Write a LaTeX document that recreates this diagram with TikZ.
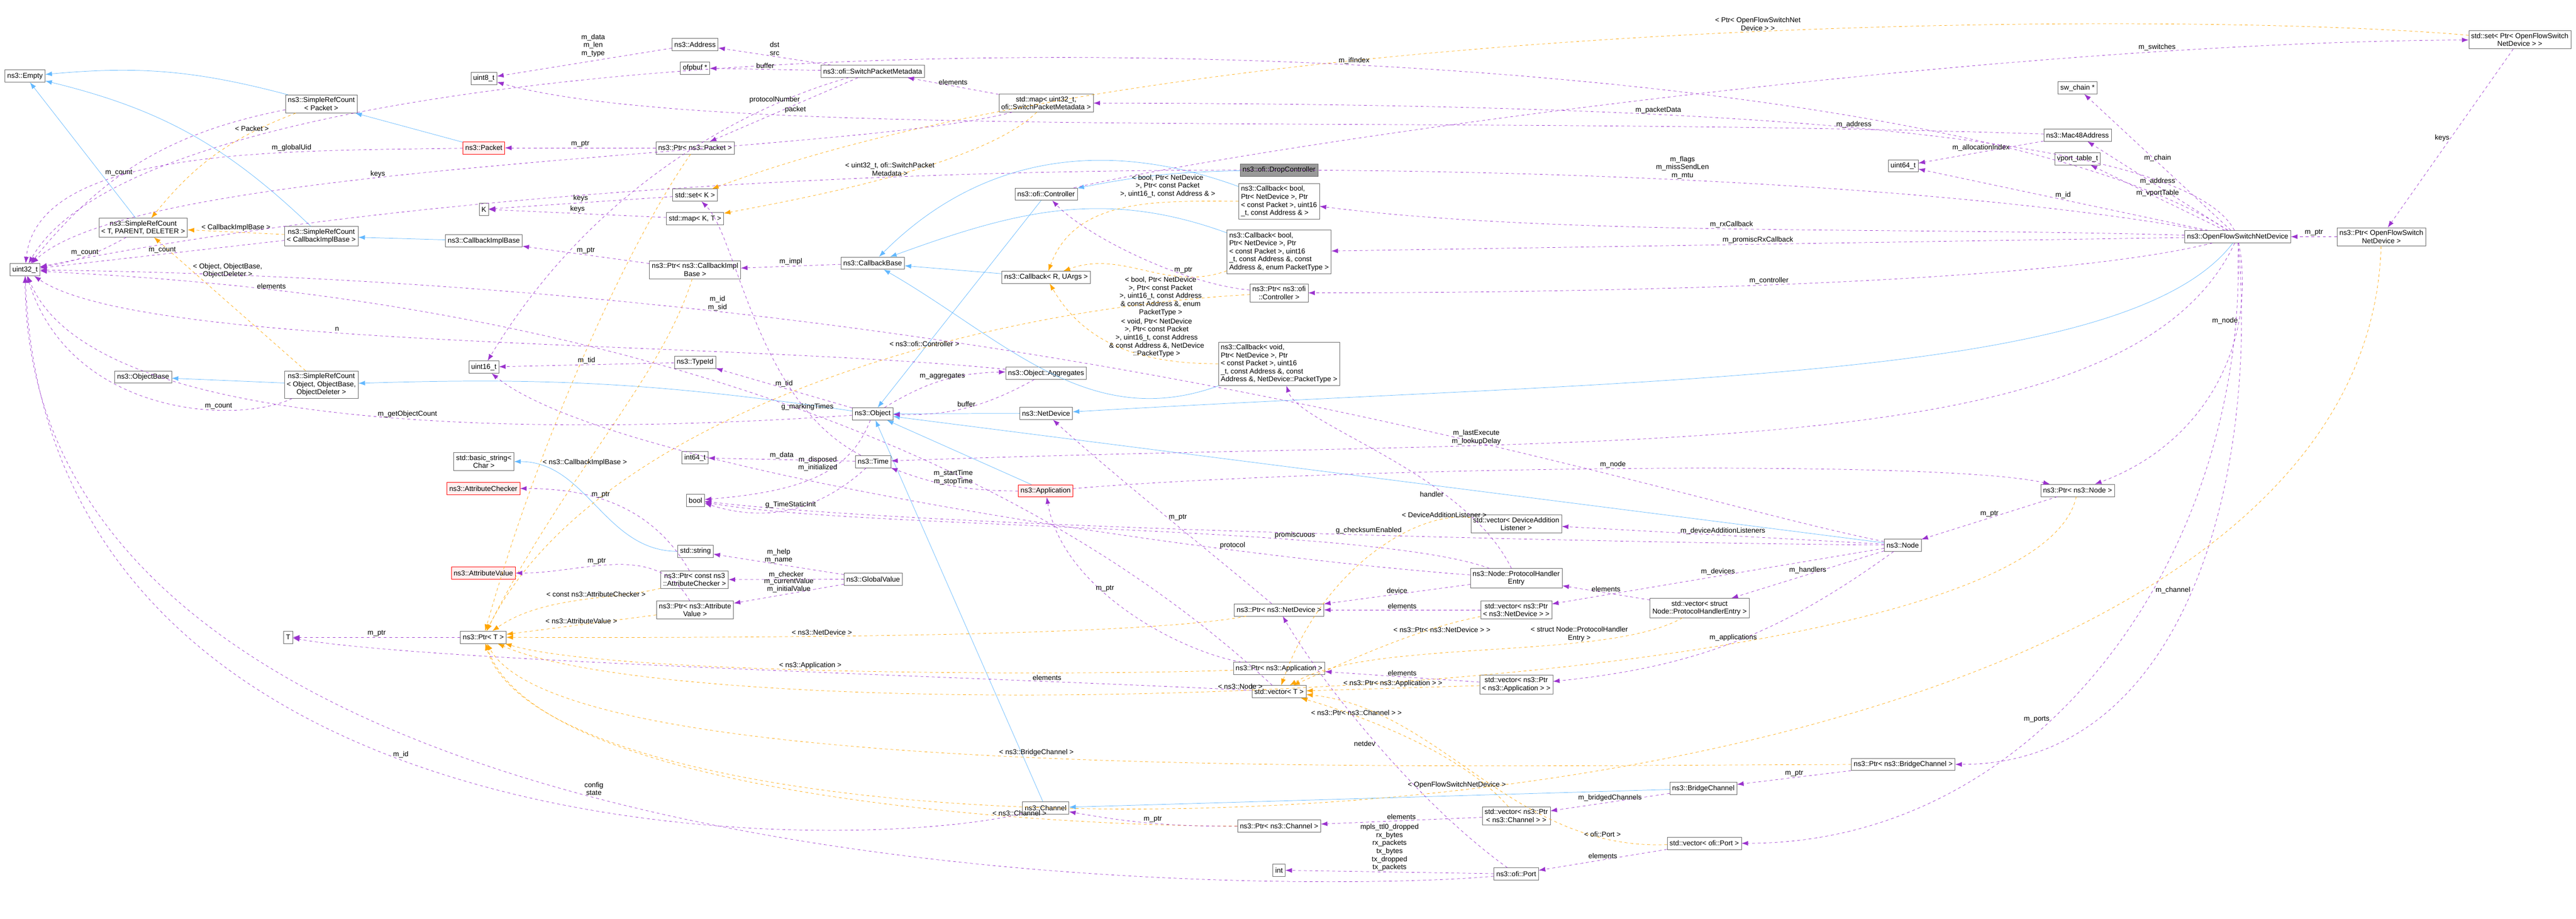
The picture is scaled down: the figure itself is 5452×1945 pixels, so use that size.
\documentclass[tikz,border=0pt]{standalone}
\usepackage{fontspec}
\setmainfont{Liberation Sans}
\usetikzlibrary{arrows.meta}
\definecolor{memcol}{RGB}{154,50,205}
\definecolor{tplcol}{RGB}{255,165,0}
\definecolor{inhcol}{RGB}{99,184,255}

\begin{document}
\begin{tikzpicture}[x=0.5pt, y=-0.5pt, >={Latex[length=7pt,width=5pt]},
  box/.style={draw=black!60, fill=white, font=\fontsize{7.5}{8.5}\selectfont, inner sep=2.5pt, minimum height=13pt, align=center},
  lbox/.style={box, align=left},
  redbox/.style={box, draw=red, fill=red!6},
  selfbox/.style={box, fill=black!40},
  mem/.style={->, draw=memcol, dashed, thin},
  tpl/.style={->, draw=tplcol, dashed, thin},
  inh/.style={->, draw=inhcol, thin},
  lbl/.style={font=\fontsize{7.5}{8.5}\selectfont, align=center, fill=none, inner sep=1pt}]
\useasboundingbox (0,0) rectangle (5452,1945);

% left column
\node[box] (empty) at (53,161) {ns3::Empty};
\node[box] (uintthirtytwo) at (53,571) {uint32\_t};
\node[box] (srct) at (303,482) {ns3::SimpleRefCount\\< T, PARENT, DELETER >};
\node[box] (objbase) at (303,798) {ns3::ObjectBase};
\node[box] (tt) at (610,1349) {T};
\node[box] (srcpacket) at (680,220) {ns3::SimpleRefCount\\< Packet >};
\node[box] (srccib) at (680,500) {ns3::SimpleRefCount\\< CallbackImplBase >};
\node[box] (srcobj) at (680,814) {ns3::SimpleRefCount\\< Object, ObjectBase,\\ObjectDeleter >};
\node[box] (uinteight) at (1024,166) {uint8\_t};
\node[redbox] (packet) at (1024,313) {ns3::Packet};
\node[box] (kk) at (1024,443) {K};
\node[box] (cibase) at (1024,510) {ns3::CallbackImplBase};
\node[box] (uintsixteen) at (1024,777) {uint16\_t};
\node[box] (basicstr) at (1024,977) {std::basic\_string<\\Char >};
\node[redbox] (attrchk) at (1023,1034) {ns3::AttributeChecker};
\node[redbox] (attrval) at (1023,1213) {ns3::AttributeValue};
\node[box] (ptrt) at (1023,1349) {ns3::Ptr< T >};

% second column
\node[box] (address) at (1471,94) {ns3::Address};
\node[box] (ofpbuf) at (1471,144) {ofpbuf *};
\node[box] (ptrpacket) at (1471,313) {ns3::Ptr< ns3::Packet >};
\node[box] (setk) at (1471,413) {std::set< K >};
\node[box] (mapkt) at (1471,463) {std::map< K, T >};
\node[box] (ptrcib) at (1471,571) {ns3::Ptr< ns3::CallbackImpl\\Base >};
\node[box] (typeid) at (1471,767) {ns3::TypeId};
\node[box] (intsixfour) at (1471,969) {int64\_t};
\node[box] (bool) at (1472,1059) {bool};
\node[box] (stdstr) at (1472,1167) {std::string};
\node[box] (ptrac) at (1470,1227) {ns3::Ptr< const ns3\\::AttributeChecker >};
\node[box] (ptrav) at (1471,1291) {ns3::Ptr< ns3::Attribute\\Value >};
\node[box] (spm) at (1847,151) {ns3::ofi::SwitchPacketMetadata};
\node[box] (cbbase) at (1847,557) {ns3::CallbackBase};
\node[box] (object) at (1847,876) {ns3::Object};
\node[box] (time) at (1848,977) {ns3::Time};
\node[box] (global) at (1848,1226) {ns3::GlobalValue};

% third column
\node[box] (mapspm) at (2214,218) {std::map< uint32\_t,\\ ofi::SwitchPacketMetadata >};
\node[box] (ctrl) at (2214,411) {ns3::ofi::Controller};
\node[box] (cbr) at (2214,587) {ns3::Callback< R, UArgs >};
\node[box] (aggr) at (2214,790) {ns3::Object::Aggregates};
\node[box] (netdev) at (2214,875) {ns3::NetDevice};
\node[redbox] (app) at (2213,1039) {ns3::Application};
\node[box] (channel) at (2213,1710) {ns3::Channel};
\node[selfbox] (dropctrl) at (2707,360) {ns3::ofi::DropController};
\node[lbox] (cbone) at (2707,426) {ns3::Callback< bool,\\ Ptr< NetDevice >, Ptr\\< const Packet >, uint16\\\_t, const Address \& >};
\node[lbox] (cbtwo) at (2707,533) {ns3::Callback< bool,\\ Ptr< NetDevice >, Ptr\\< const Packet >, uint16\\\_t, const Address \&, const\\ Address \&, enum PacketType >};
\node[box] (ptrctrl) at (2707,620) {ns3::Ptr< ns3::ofi\\::Controller >};
\node[lbox] (cbthree) at (2707,770) {ns3::Callback< void,\\ Ptr< NetDevice >, Ptr\\< const Packet >, uint16\\\_t, const Address \&, const\\ Address \&, NetDevice::PacketType >};
\node[box] (ptrnd) at (2707,1291) {ns3::Ptr< ns3::NetDevice >};
\node[box] (ptrapp) at (2707,1415) {ns3::Ptr< ns3::Application >};
\node[box] (vect) at (2707,1464) {std::vector< T >};
\node[box] (ptrch) at (2707,1748) {ns3::Ptr< ns3::Channel >};
\node[box] (intt) at (2707,1842) {int};

% fourth column
\node[box] (vecdal) at (3209,1109) {std::vector< DeviceAddition\\Listener >};
\node[box] (phe) at (3209,1224) {ns3::Node::ProtocolHandler\\Entry};
\node[box] (vecnd) at (3209,1291) {std::vector< ns3::Ptr\\< ns3::NetDevice > >};
\node[box] (vecapp) at (3209,1449) {std::vector< ns3::Ptr\\< ns3::Application > >};
\node[box] (vecch) at (3209,1727) {std::vector< ns3::Ptr\\< ns3::Channel > >};
\node[box] (port) at (3209,1850) {ns3::ofi::Port};
\node[box] (vecphe) at (3597,1287) {std::vector< struct\\ Node::ProtocolHandlerEntry >};
\node[box] (bridge) at (3605,1669) {ns3::BridgeChannel};
\node[box] (vecport) at (3607,1785) {std::vector< ofi::Port >};
\node[box] (node) at (4027,1154) {ns3::Node};
\node[box] (ptrbridge) at (4028,1618) {ns3::Ptr< ns3::BridgeChannel >};
\node[box] (uintsixfour) at (4028,351) {uint64\_t};

% right column
\node[box] (swchain) at (4397,186) {sw\_chain *};
\node[box] (mac) at (4397,286) {ns3::Mac48Address};
\node[box] (vport) at (4397,336) {vport\_table\_t};
\node[box] (ptrnode) at (4397,1038) {ns3::Ptr< ns3::Node >};
\node[box] (ofsnd) at (4736,501) {ns3::OpenFlowSwitchNetDevice};
\node[box] (ptrofsnd) at (5040,501) {ns3::Ptr< OpenFlowSwitch\\NetDevice >};
\node[box] (setofsnd) at (5333,84) {std::set< Ptr< OpenFlowSwitch\\NetDevice > >};

% inheritance
\draw[inh] (srcpacket) to[bend right=10] (empty);
\draw[inh] (srccib) to[bend right=15] (empty);
\draw[inh] (srct) -- (empty);
\draw[inh] (packet) -- (srcpacket);
\draw[inh] (cibase) -- (srccib);
\draw[inh] (srcobj) -- (objbase);
\draw[inh] (object) to[bend right=5] (srcobj);
\draw[inh] (stdstr) to[out=180, in=0] (basicstr);
\draw[inh] (dropctrl) to[bend right=5] (ctrl);
\draw[inh] (ctrl) -- (object);
\draw[inh] (cbone) to[out=160, in=45] (cbbase);
\draw[inh] (cbtwo) to[out=160, in=20] (cbbase);
\draw[inh] (cbr) -- (cbbase);
\draw[inh] (cbthree) to[out=200, in=-30] (cbbase);
\draw[inh] (netdev) -- (object);
\draw[inh] (node) -- (object);
\draw[inh] (app) -- (object);
\draw[inh] (channel) -- (object);
\draw[inh] (bridge) -- (channel);
\draw[inh] (ofsnd) .. controls (4500,810) and (3500,800) .. (netdev);

% templates
\draw[tpl] (srcpacket) to[bend right=15] node[lbl, near start, above] {< Packet >} (srct);
\draw[tpl] (srccib) -- node[lbl, above] {< CallbackImplBase >} (srct);
\draw[tpl] (srcobj) -- node[lbl, near end, right] {< Object, ObjectBase,\\ObjectDeleter >} (srct);
\draw[tpl] (setofsnd) .. controls (4600,20) and (2500,30) .. node[lbl, pos=0.45, above] {< Ptr< OpenFlowSwitchNet\\Device > >} (setk);
\draw[tpl] (mapspm) .. controls (2080,350) and (1700,420) .. node[lbl, midway, above] {< uint32\_t, ofi::SwitchPacket\\Metadata >} (mapkt);
\draw[tpl] (cbone) to[out=180, in=70] node[lbl, pos=0.3, above=4pt] {< bool, Ptr< NetDevice\\>, Ptr< const Packet\\>, uint16\_t, const Address \& >} (cbr);
\draw[tpl] (cbtwo) to[out=200, in=20] node[lbl, pos=0.4, below=2pt] {< bool, Ptr< NetDevice\\>, Ptr< const Packet\\>, uint16\_t, const Address\\\& const Address \&, enum\\PacketType >} (cbr);
\draw[tpl] (cbthree) to[out=180, in=-60] node[lbl, pos=0.3, above] {< void, Ptr< NetDevice\\>, Ptr< const Packet\\>, uint16\_t, const Address\\\& const Address \&, NetDevice\\::PacketType >} (cbr);
\draw[tpl] (ptrpacket) .. controls (1340,500) and (1150,900) .. (ptrt);
\draw[tpl] (ptrcib) .. controls (1400,800) and (1200,1000) .. node[lbl, pos=0.6, above] {< ns3::CallbackImplBase >} (ptrt);
\draw[tpl] (ptrctrl) .. controls (2000,660) and (1250,900) .. node[lbl, pos=0.35, above] {< ns3::ofi::Controller >} (ptrt);
\draw[tpl] (ptrac) .. controls (1300,1270) and (1150,1260) .. node[lbl, pos=0.4, above] {< const ns3::AttributeChecker >} (ptrt);
\draw[tpl] (ptrav) -- node[lbl, above] {< ns3::AttributeValue >} (ptrt);
\draw[tpl] (ptrnd) .. controls (2400,1350) and (1500,1350) .. node[lbl, pos=0.6, above] {< ns3::NetDevice >} (ptrt);
\draw[tpl] (ptrapp) .. controls (2300,1430) and (1300,1430) .. node[lbl, pos=0.55, above] {< ns3::Application >} (ptrt);
\draw[tpl] (ptrnode) .. controls (4300,1500) and (1500,1560) .. node[lbl, pos=0.55, above] {< ns3::Node >} (ptrt);
\draw[tpl] (ptrbridge) .. controls (3000,1620) and (1200,1660) .. node[lbl, pos=0.5, above] {< ns3::BridgeChannel >} (ptrt);
\draw[tpl] (ptrch) .. controls (2300,1750) and (1150,1700) .. node[lbl, pos=0.3, above] {< ns3::Channel >} (ptrt);
\draw[tpl] (ptrofsnd) .. controls (5000,1900) and (1200,1930) .. node[lbl, pos=0.5, above] {< OpenFlowSwitchNetDevice >} (ptrt);
\draw[tpl] (vecdal) .. controls (3000,1080) and (2800,1200) .. node[lbl, pos=0.15, above] {< DeviceAdditionListener >} (vect);
\draw[tpl] (vecnd) .. controls (3000,1330) and (2850,1400) .. node[lbl, pos=0.2, below] {< ns3::Ptr< ns3::NetDevice > >} (vect);
\draw[tpl] (vecphe) .. controls (3400,1400) and (2900,1350) .. node[lbl, pos=0.3, above] {< struct Node::ProtocolHandler\\Entry >} (vect);
\draw[tpl] (vecapp) -- node[lbl, above] {< ns3::Ptr< ns3::Application > >} (vect);
\draw[tpl] (vecch) .. controls (3100,1600) and (2900,1520) .. node[lbl, pos=0.75, above] {< ns3::Ptr< ns3::Channel > >} (vect);
\draw[tpl] (vecport) .. controls (3200,1800) and (3050,1500) .. node[lbl, pos=0.15, above] {< ofi::Port >} (vect);

% members
\draw[mem] (srcpacket) to[bend right=20] node[lbl, pos=0.6, above] {m\_count} (uintthirtytwo);
\draw[mem] (srct) to[bend left=10] node[lbl, above] {m\_count} (uintthirtytwo);
\draw[mem] (srccib) -- node[lbl, above] {m\_count} (uintthirtytwo);
\draw[mem] (srcobj) .. controls (500,900) and (150,880) .. node[lbl, pos=0.3, above] {m\_count} (uintthirtytwo);
\draw[mem] (packet) .. controls (600,320) and (80,310) .. node[lbl, pos=0.3, above] {m\_globalUid} (uintthirtytwo);
\draw[mem] (mapspm) .. controls (1800,330) and (300,340) .. node[lbl, pos=0.6, above] {keys} (uintthirtytwo);
\draw[mem] (vect) .. controls (1800,620) and (300,590) .. node[lbl, pos=0.7, above] {elements} (uintthirtytwo);
\draw[mem] (aggr) .. controls (1500,720) and (300,740) .. node[lbl, pos=0.6, above] {n} (uintthirtytwo);
\draw[mem] (object) .. controls (1200,920) and (200,930) .. node[lbl, pos=0.45, above] {m\_getObjectCount} (uintthirtytwo);
\draw[mem] (ofsnd) .. controls (4000,20) and (400,-40) .. node[lbl, pos=0.4, above] {m\_ifIndex} (uintthirtytwo);
\draw[mem] (ofsnd) .. controls (3800,330) and (1500,280) .. node[lbl, pos=0.3, above] {m\_flags\\m\_missSendLen\\m\_mtu} (uintthirtytwo);
\draw[mem] (channel) .. controls (1800,1810) and (100,1830) .. node[lbl, pos=0.55, above] {m\_id} (uintthirtytwo);
\draw[mem] (port) .. controls (2800,1890) and (60,1930) .. node[lbl, pos=0.55, above] {config\\state} (uintthirtytwo);
\draw[mem] (node) .. controls (3500,1050) and (2200,600) .. node[lbl, pos=0.75, above] {m\_id\\m\_sid} (uintthirtytwo);
\draw[mem] (address) -- node[lbl, pos=0.45, above=3pt] {m\_data\\m\_len\\m\_type} (uinteight);
\draw[mem] (mac) .. controls (3000,240) and (1500,300) .. node[lbl, pos=0.1, above] {m\_address} (uinteight);
\draw[mem] (spm) .. controls (1700,190) and (1300,320) .. node[lbl, pos=0.3, above] {protocolNumber} (uintsixteen);
\draw[mem] (spm) -- node[lbl, above] {dst\\src} (address);
\draw[mem] (spm) -- node[lbl, above] {buffer} (ofpbuf);
\draw[mem] (spm) -- node[lbl, midway, right] {packet} (ptrpacket);
\draw[mem] (mapspm) -- node[lbl, above] {elements} (spm);
\draw[mem] (ptrpacket) -- node[lbl, above] {m\_ptr} (packet);
\draw[mem] (setk) -- node[lbl, above] {keys} (kk);
\draw[mem] (mapkt) -- node[lbl, above] {keys} (kk);
\draw[mem] (ptrcib) -- node[lbl, above] {m\_ptr} (cibase);
\draw[mem] (cbbase) -- node[lbl, above] {m\_impl} (ptrcib);
\draw[mem] (typeid) -- node[lbl, above] {m\_tid} (uintsixteen);
\draw[mem] (object) -- node[lbl, above] {m\_tid} (typeid);
\draw[mem] (time) .. controls (1600,850) and (1560,500) .. node[lbl, pos=0.2, above] {g\_markingTimes} (setk);
\draw[mem] (object) to[bend left=15] node[lbl, above] {m\_aggregates} (aggr);
\draw[mem] (aggr) to[bend left=15] node[lbl, above] {buffer} (object);
\draw[mem] (ptrctrl) .. controls (2500,600) and (2300,500) .. node[lbl, pos=0.3, above] {m\_ptr} (ctrl);
\draw[mem] (ofsnd) .. controls (4000,480) and (3300,500) .. node[lbl, midway, above] {m\_rxCallback} (cbone);
\draw[mem] (ofsnd) -- node[lbl, above] {m\_promiscRxCallback} (cbtwo);
\draw[mem] (ofsnd) .. controls (4300,610) and (3200,620) .. node[lbl, midway, above] {m\_controller} (ptrctrl);
\draw[mem] (ofsnd) .. controls (4600,240) and (3200,220) .. node[lbl, pos=0.6, above] {m\_packetData} (mapspm);
\draw[mem] (ctrl) .. controls (2700,300) and (4200,90) .. node[lbl, pos=0.8, above] {m\_switches} (setofsnd);
\draw[mem] (ofsnd) -- node[lbl, above] {m\_address} (mac);
\draw[mem] (ofsnd) -- node[lbl, above] {m\_chain} (swchain);
\draw[mem] (ofsnd) -- node[lbl, above] {m\_vportTable} (vport);
\draw[mem] (ofsnd) -- node[lbl, above] {m\_id} (uintsixfour);
\draw[mem] (mac) -- node[lbl, above] {m\_allocationIndex} (uintsixfour);
\draw[mem] (ptrofsnd) -- node[lbl, above] {m\_ptr} (ofsnd);
\draw[mem] (setofsnd) -- node[lbl, left] {keys} (ptrofsnd);
\draw[mem] (ofsnd) .. controls (4500,1000) and (3400,920) .. node[lbl, pos=0.7, above] {m\_lastExecute\\m\_lookupDelay} (time);
\draw[mem] (ofsnd) to[out=-80, in=20] node[lbl, near start, left] {m\_node} (ptrnode);
\draw[mem] (app) .. controls (2800,990) and (4100,970) .. node[lbl, pos=0.5, above] {m\_node} (ptrnode);
\draw[mem] (ofsnd) to[out=-85, in=0] node[lbl, pos=0.5, left] {m\_channel} (ptrbridge);
\draw[mem] (ofsnd) to[out=-88, in=0] node[lbl, pos=0.6, left] {m\_ports} (vecport);
\draw[mem] (ptrnode) -- node[lbl, above] {m\_ptr} (node);
\draw[mem] (node) -- node[lbl, above] {m\_deviceAdditionListeners} (vecdal);
\draw[mem] (node) -- node[lbl, above] {m\_devices} (vecnd);
\draw[mem] (node) -- node[lbl, above] {m\_handlers} (vecphe);
\draw[mem] (node) to[bend left=15] node[lbl, above] {m\_applications} (vecapp);
\draw[mem] (node) .. controls (3500,1150) and (2000,1120) .. node[lbl, pos=0.45, above] {g\_checksumEnabled} (bool);
\draw[mem] (phe) .. controls (2900,1110) and (1800,1120) .. node[lbl, pos=0.3, above] {promiscuous} (bool);
\draw[mem] (time) to[bend left=30] node[lbl, above] {g\_TimeStaticInit} (bool);
\draw[mem] (object) .. controls (1800,1000) and (1700,1040) .. node[lbl, pos=0.35, left] {m\_disposed\\m\_initialized} (bool);
\draw[mem] (time) -- node[lbl, above] {m\_data} (intsixfour);
\draw[mem] (app) to[bend left=10] node[lbl, above] {m\_startTime\\m\_stopTime} (time);
\draw[mem] (phe) .. controls (3100,1000) and (2750,900) .. node[lbl, pos=0.3, left] {handler} (cbthree);
\draw[mem] (phe) .. controls (2600,1180) and (1300,1000) .. node[lbl, pos=0.25, above] {protocol} (uintsixteen);
\draw[mem] (phe) -- node[lbl, above] {device} (ptrnd);
\draw[mem] (vecphe) -- node[lbl, above] {elements} (phe);
\draw[mem] (vecnd) -- node[lbl, above] {elements} (ptrnd);
\draw[mem] (vecapp) -- node[lbl, above] {elements} (ptrapp);
\draw[mem] (ptrapp) .. controls (2500,1380) and (2250,1250) .. node[lbl, pos=0.6, above] {m\_ptr} (app);
\draw[mem] (ptrnd) .. controls (2600,1200) and (2350,1000) .. node[lbl, pos=0.5, right] {m\_ptr} (netdev);
\draw[mem] (vecch) -- node[lbl, above] {elements} (ptrch);
\draw[mem] (ptrch) to[bend left=5] node[lbl, above] {m\_ptr} (channel);
\draw[mem] (bridge) -- node[lbl, above] {m\_bridgedChannels} (vecch);
\draw[mem] (ptrbridge) -- node[lbl, above] {m\_ptr} (bridge);
\draw[mem] (vecport) -- node[lbl, above] {elements} (port);
\draw[mem] (port) -- node[lbl, above] {mpls\_ttl0\_dropped\\rx\_bytes\\rx\_packets\\tx\_bytes\\tx\_dropped\\tx\_packets} (intt);
\draw[mem] (port) .. controls (3000,1700) and (2800,1450) .. node[lbl, pos=0.5, left] {netdev} (ptrnd);
\draw[mem] (global) -- node[lbl, above] {m\_help\\m\_name} (stdstr);
\draw[mem] (global) -- node[lbl, above] {m\_checker} (ptrac);
\draw[mem] (global) -- node[lbl, above] {m\_currentValue\\m\_initialValue} (ptrav);
\draw[mem] (ptrac) to[out=120, in=0] node[lbl, pos=0.6, above] {m\_ptr} (attrchk);
\draw[mem] (ptrav) to[out=120, in=0] node[lbl, pos=0.6, above] {m\_ptr} (attrval);
\draw[mem] (ptrt) -- node[lbl, above] {m\_ptr} (tt);
\draw[mem] (vect) .. controls (2000,1430) and (900,1400) .. node[lbl, pos=0.2, above] {elements} (tt);
\end{tikzpicture}
\end{document}
